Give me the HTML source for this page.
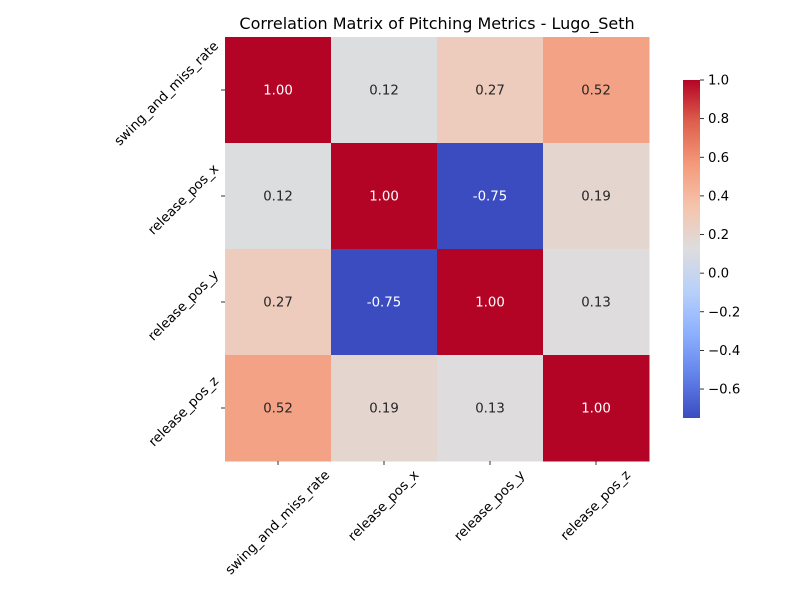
<!DOCTYPE html>
<html><head><meta charset="utf-8"><style>
body{margin:0;background:#fff;}
svg text{font-family:"DejaVu Sans","Liberation Sans",sans-serif;}
</style></head><body>
<svg id="chart" width="800" height="600" xmlns="http://www.w3.org/2000/svg">
<rect width="800" height="600" fill="#fff"/>
<text x="437" y="29" font-size="16" text-anchor="middle">Correlation Matrix of Pitching Metrics - Lugo_Seth</text>
<g id="cellsG"></g>
<g id="xlabelsG"></g>
<g id="ylabelsG"></g>
<defs><linearGradient id="cbgrad" x1="0" y1="1" x2="0" y2="0"></linearGradient></defs>
<rect x="683" y="80" width="17" height="338" fill="url(#cbgrad)"/>
<g id="cbticksG"></g>
</svg>
<script>
const categories = ["swing_and_miss_rate","release_pos_x","release_pos_y","release_pos_z"];
const row0 = [1.00, 0.12, 0.27, 0.52];
const row1 = [0.12, 1.00, -0.75, 0.19];
const row2 = [0.27, -0.75, 1.00, 0.13];
const row3 = [0.52, 0.19, 0.13, 1.00];
const cbTicks = [-0.6,-0.4,-0.2,0.0,0.2,0.4,0.6,0.8,1.0];
const vmin = -0.75, vmax = 1.0;

const matrix=[row0,row1,row2,row3];
const NS="http://www.w3.org/2000/svg";
const gLeft=225,gTop=37,gSize=424,nCat=categories.length,gCell=gSize/nCat;
const FS=13.3;
const cmap=[[0,59,76,192],[0.125,98,130,234],[0.25,141,176,254],[0.375,184,208,249],[0.5,221,221,221],[0.625,245,196,173],[0.75,244,154,123],[0.875,222,96,77],[1,180,4,38]];
function color(v){let t=(v-vmin)/(vmax-vmin);t=Math.max(0,Math.min(1,t));
 for(let i=0;i<cmap.length-1;i++){const a=cmap[i],b=cmap[i+1];if(t<=b[0]){const f=(t-a[0])/(b[0]-a[0]);
 return `rgb(${Math.round(a[1]+f*(b[1]-a[1]))},${Math.round(a[2]+f*(b[2]-a[2]))},${Math.round(a[3]+f*(b[3]-a[3]))})`;}}return "rgb(180,4,38)";}
function mk(tag,attrs,parent){const e=document.createElementNS(NS,tag);for(const k in attrs)e.setAttribute(k,attrs[k]);parent.appendChild(e);return e;}
const cellsG=document.getElementById('cellsG');
matrix.forEach((row,r)=>row.forEach((v,c)=>{
 const rect=mk('rect',{x:gLeft+c*gCell,y:gTop+r*gCell,width:gCell+0.5,height:gCell+0.5,fill:color(v)},cellsG);
 
 
 const t=mk('text',{x:gLeft+(c+0.5)*gCell,y:gTop+(r+0.5)*gCell+4.5,'font-size':FS,'text-anchor':'middle',fill:(v>0.85||v<-0.5)?'#fff':'#262626'},cellsG);
 t.textContent=v.toFixed(2);
 
 
}));
const xl=document.getElementById('xlabelsG'),yl=document.getElementById('ylabelsG');
const H=12;
categories.forEach((name,i)=>{
 const cx=gLeft+(i+0.5)*gCell;
 mk('line',{x1:cx,y1:gTop+gSize,x2:cx,y2:gTop+gSize+4,stroke:'#000','stroke-width':0.8},xl);
 const t=mk('text',{'font-size':FS,'text-anchor':'middle','dominant-baseline':'central'},xl);
 t.textContent=name;
 
 
 const L=t.getComputedTextLength();
 const w=(L+H)*Math.SQRT1_2;
 const xcy=gTop+gSize+8+w/2;
 t.setAttribute('x',cx);t.setAttribute('y',xcy);
 t.setAttribute('transform',`rotate(-45 ${cx} ${xcy})`);
 const cy=gTop+(i+0.5)*gCell+4;
 mk('line',{x1:gLeft-4,y1:cy-4,x2:gLeft,y2:cy-4,stroke:'#000','stroke-width':0.8},yl);
 const u=mk('text',{'font-size':FS,'text-anchor':'middle','dominant-baseline':'central'},yl);
 u.textContent=name;
 
 
 const L2=u.getComputedTextLength();
 const w2=(L2+H)*Math.SQRT1_2;
 const ycx=gLeft-4-w2/2;
 u.setAttribute('x',ycx);u.setAttribute('y',cy);
 u.setAttribute('transform',`rotate(-45 ${ycx} ${cy})`);
});
const grad=document.getElementById('cbgrad');
cmap.forEach(s=>{mk('stop',{offset:s[0],'stop-color':`rgb(${s[1]},${s[2]},${s[3]})`},grad);});
const cbTop=80,cbH=338,cbx=700;
const cbt=document.getElementById('cbticksG');
cbTicks.forEach(v=>{
 const y=cbTop+(vmax-v)/(vmax-vmin)*cbH;
 mk('line',{x1:cbx,y1:y,x2:cbx+4,y2:y,stroke:'#000','stroke-width':0.8},cbt);
 const t=mk('text',{x:cbx+8,y:y+4.5,'font-size':FS},cbt);
 t.textContent=(v<0?'\u2212':'')+Math.abs(v).toFixed(1);
 
 
});
</script>
</body></html>
